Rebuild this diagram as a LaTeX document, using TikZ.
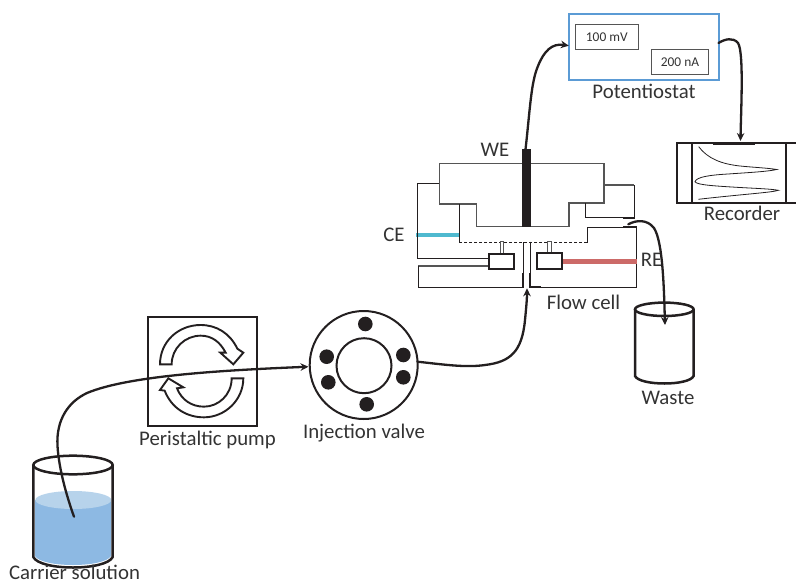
\documentclass[tikz,border=0pt]{standalone}
\usepackage{fontspec}
\setmainfont{Carlito}
\usetikzlibrary{arrows.meta}
\definecolor{ink}{HTML}{231F20}
\definecolor{txt}{HTML}{333333}
\definecolor{grayline}{HTML}{555555}
\definecolor{potblue}{HTML}{5B9BD5}
\definecolor{liquid}{HTML}{8DB9E3}
\definecolor{liquidtop}{HTML}{B7D3EB}
\definecolor{cebar}{HTML}{4FB9CF}
\definecolor{rebar}{HTML}{CC6A68}
\tikzset{
  lab/.style={font=\fontsize{20.8}{23}\selectfont,text=txt,inner sep=0pt},
  small/.style={font=\fontsize{13.4}{15}\selectfont,text=txt,inner sep=0pt},
  tube/.style={draw=ink,line width=2.3pt,line cap=round,-{Stealth[length=8pt,width=7.5pt]}},
  cell/.style={draw=ink,line width=1pt},
  cellgray/.style={draw=grayline,line width=1.3pt},
  vessel/.style={draw=ink,line width=2.5pt},
  readout/.style={draw=grayline,line width=1.2pt,fill=white,inner sep=0pt,minimum height=25pt},
  port/.style={circle,fill=ink,inner sep=0pt,minimum size=14.6pt},
  cbox/.style={draw=ink,line width=2pt,fill=white,inner sep=0pt,minimum width=25pt,minimum height=15.4pt},
  trace/.style={draw=ink,line width=.8pt}
}
\begin{document}
\begin{tikzpicture}[x=1pt,y=-1pt]
\useasboundingbox (0,0) rectangle (796,584);

% ---- Carrier beaker
\fill[liquid] (35,500) -- (35,556) .. controls (42,568) and (104,568) .. (111,556) -- (111,500) -- cycle;
\fill[liquidtop] (73.3,500) ellipse [x radius=38,y radius=9];
\draw[vessel] (33.3,465) -- (33.3,557) .. controls (40,571) and (106,571) .. (112.7,557) -- (112.7,465);
\draw[vessel] (73,465) ellipse [x radius=39.7,y radius=9.3];
\coordinate (cs) at (74,516.7);
\node[lab] (carrier) at (74.5,572.5) {Carrier solution};

% ---- Pump
\node[draw=ink,line width=2pt,minimum width=108.4pt,minimum height=108.4pt,inner sep=0pt] (pump) at (202.5,371.5) {};
\begin{scope}[shift={(130,300)},x=.3333pt,y=-.3333pt,line width=1.9pt,draw=ink,fill=white]
\draw (90,193) .. controls (90,125) and (145,75) .. (212,75)
      .. controls (260,75) and (300,100) .. (322,146)
      -- (340,158) -- (310,193) -- (271,158) -- (287,158)
      .. controls (270,125) and (245,107) .. (212,107)
      .. controls (165,107) and (125,145) .. (125,193) -- cycle;
\draw (340,235) .. controls (340,300) and (285,352) .. (222,352)
      .. controls (170,352) and (125,325) .. (104,272)
      -- (90,270) -- (115,235) -- (160,262) -- (141,265)
      .. controls (155,300) and (185,320) .. (222,320)
      .. controls (265,320) and (305,285) .. (305,235) -- cycle;
\end{scope}
\node[lab] (pumplabel) at (207.5,440) {Peristaltic pump};

% ---- Injection valve
\node[circle,draw=ink,line width=2pt,inner sep=0pt,minimum size=108pt] (valve) at (363.7,365) {};
\node[circle,draw=ink,line width=2pt,inner sep=0pt,minimum size=55pt] (rotor) at (364,365.7) {};
\node[port] (p1) at (365.3,324) {};
\node[port] (p2) at (326.7,356.7) {};
\node[port] (p3) at (328.3,382.3) {};
\node[port] (p4) at (403.3,355) {};
\node[port] (p5) at (403.3,377.3) {};
\node[port] (p6) at (366.7,404.3) {};
\node[lab] (valvelabel) at (364,433.5) {Injection valve};
\coordinate (vin) at (308.5,366.7);
\coordinate (vout) at (417.3,361.7);

% ---- Flow cell
\draw[cellgray] (521.7,163.5) -- (439.3,163.5) -- (439.3,204) -- (476.7,204) -- (476.7,226.7) -- (569,226.7) -- (569,203) -- (604,203) -- (604,163.5) -- (530.7,163.5);
\draw[cell] (439.3,183.3) -- (417.3,183.3) -- (417.3,258.3) -- (489,258.3);
\draw[cellgray] (489,266) -- (418.3,266);
\draw[cell] (418.3,266) -- (418.3,288);
\draw[cell] (418.3,287) -- (523.3,287) -- (523.3,241.7);
\draw[cell,line width=2pt] (523.3,273) -- (523.3,287);
\draw[cell] (530.3,241.7) -- (530.3,287) -- (636.7,287) -- (636.7,227) -- (587,227) -- (587,242.7);
\draw[cell,line width=2pt] (530.3,273) -- (530.3,287) -- (541,287);
\draw[cell,densely dashed,line width=.9pt] (587,242.7) -- (459.3,242.7);
\draw[cell] (459.3,204) -- (459.3,243);
\draw[cellgray] (604,185) -- (634,185);
\draw[cell] (634,185) -- (634,217.7) -- (585.7,217.7) -- (585.7,203);
\draw[cell,line width=2pt] (623,217.7) -- (634.5,217.7);
\draw[cell,line width=2pt] (623,227) -- (637,227);
\fill[cebar] (416,233.2) rectangle (459.3,237);
\draw[ink,line width=1.3pt] (417.3,231) -- (417.3,239);
\fill[rebar] (561,258.8) rectangle (637,263.6);
\draw[grayline,line width=1pt,fill=white] (500,241.7) rectangle (503.3,254);
\draw[grayline,line width=1pt,fill=white] (547.7,241.7) rectangle (551,253.3);
\node[cbox] (cleft) at (501.5,261.6) {};
\node[cbox] (cright) at (549.5,261) {};
\fill[ink] (521.7,149) rectangle (530.7,226.7);
\coordinate (wetop) at (525.5,149.5);
\coordinate (cellin) at (527,288.3);
\coordinate (cellout) at (628.3,224.3);
\node[lab] (we) at (495,150) {WE};
\node[lab] (ce) at (394,235) {CE};
\node[lab] (re) at (651.5,260) {RE};
\node[lab] (flow) at (583.5,302) {Flow cell};

% ---- Potentiostat
\node[draw=potblue,line width=2.2pt,inner sep=0pt,minimum width=149.7pt,minimum height=66.3pt] (pot) at (643.8,46.8) {};
\node[readout,small,minimum width=63pt] (mv) at (606.8,36.7) {100 mV};
\node[readout,small,minimum width=57.4pt] (na) at (680,61.7) {200 nA};
\node[lab] (potlabel) at (644,91) {Potentiostat};
\coordinate (potout) at (718.5,43);

% ---- Recorder
\draw[vessel,line width=2pt] (796,143.3) -- (676.7,143.3) -- (676.7,203.3) -- (796,203.3);
\draw[vessel,line width=2pt] (692.3,143.3) -- (692.3,203.3);
\draw[vessel,line width=2pt] (785.7,143.3) -- (785.7,203.3);
\draw[ink,line width=3pt] (713,143.3) -- (755,143.3);
\draw[trace] (698.7,146.7) .. controls (708,159) and (722,164) .. (740,166) .. controls (755,167.5) and (768,168) .. (776.7,169.5)
  .. controls (768,171.5) and (750,172.5) .. (728,174) .. controls (710,175) and (696,177) .. (695,181.8)
  .. controls (697,185) and (715,186) .. (740,187.5) .. controls (758,188.5) and (772,189) .. (778.3,190.3)
  .. controls (772,192.5) and (745,194) .. (698.3,199.3);
\coordinate (recin) at (740.5,141);
\node[lab] (reclabel) at (742,213.5) {Recorder};

% ---- Waste
\draw[vessel] (635,309.3) -- (635,376) .. controls (640,386) and (689,386) .. (693.6,376) -- (693.6,309.3);
\draw[vessel] (664.3,309.3) ellipse [x radius=29.3,y radius=6.7];
\coordinate (wastein) at (665,325);
\node[lab] (wastelabel) at (668,398) {Waste};

% ---- Connectors
\draw[tube] (cs) .. controls (67,497) and (59,470) .. (57.5,446) .. controls (56,420) and (68,402) .. (87,393) .. controls (130,375) and (230,370) .. (vin);
\draw[tube] (vout) .. controls (440,364) and (465,368) .. (485,365) .. controls (510,362) and (522,352) .. (525,320) .. controls (526.5,305) and (527,298) .. (cellin);
\draw[tube] (wetop) .. controls (530,110) and (531,82) .. (538,66) .. controls (544,51) and (552,43) .. (568.8,45.7);
\draw[tube] (potout) .. controls (725,39) and (733,37) .. (738,43) .. controls (744,52) and (741,110) .. (recin);
\draw[tube] (cellout) .. controls (636,220) and (647,219) .. (654,228) .. controls (663,242) and (664,290) .. (wastein);
\end{tikzpicture}
\end{document}
